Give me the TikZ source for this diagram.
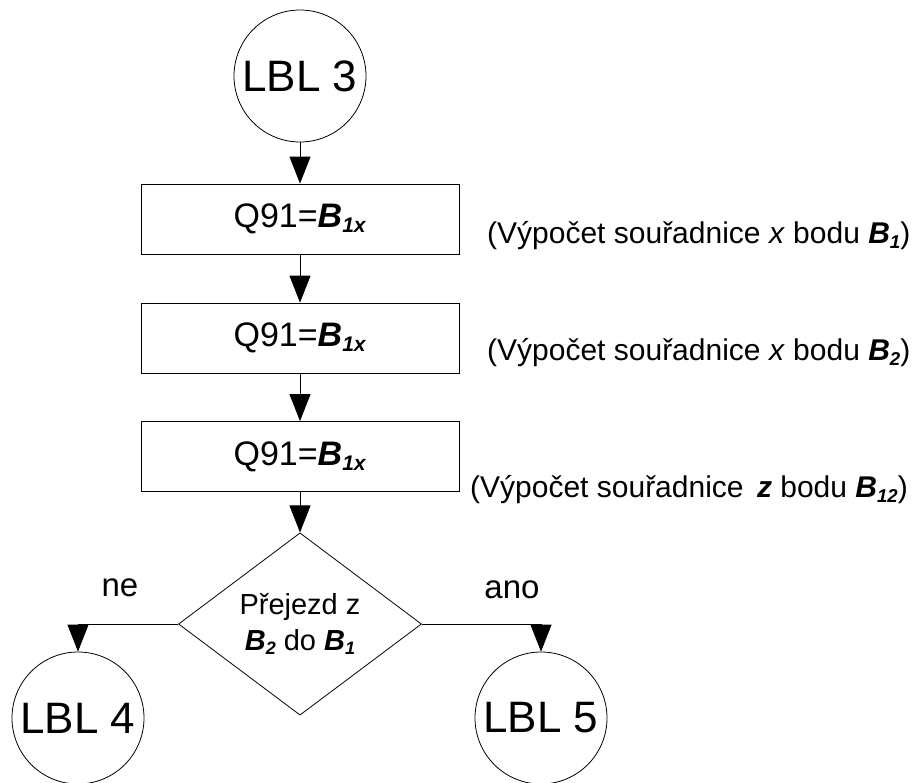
\documentclass[tikz,border=0pt]{standalone}
\usepackage{fontspec}
\setmainfont{Liberation Sans}
\usetikzlibrary{shapes.geometric,arrows.meta}

% bold italic symbol with a small lowered index
\newcommand{\bsym}[2]{\textbf{\textit{#1}}\raisebox{-0.28ex}{\scalebox{0.62}{\textbf{\textit{#2}}}}}

\begin{document}
\begin{tikzpicture}[x=1pt,y=-1pt,
  every node/.style={inner sep=0pt},
  lbl/.style={draw,circle,minimum size=132pt,line width=0.8pt,
              font=\fontsize{44}{48}\selectfont},
  procbox/.style={draw,rectangle,minimum width=318pt,minimum height=70pt,
              line width=0.8pt,font=\fontsize{34}{38}\selectfont},
  decide/.style={draw,diamond,minimum width=243pt,minimum height=180pt,
              line width=0.8pt,align=center,font=\fontsize{29}{36}\selectfont},
  note/.style={anchor=west,font=\fontsize{30}{34}\selectfont},
  branch/.style={font=\fontsize{33}{38}\selectfont},
  flow/.style={line width=0.8pt,-{Triangle[width=21pt,length=27pt]}}]

\useasboundingbox (0,0) rectangle (912,782);

% start connector and the three assignment steps
\node[lbl] (c3) at (300,76) {LBL 3};
\node[procbox] (b1) at (300,219) {Q91=\bsym{B}{1x}};
\node[procbox] (b2) at (300,338) {Q91=\bsym{B}{1x}};
\node[procbox] (b3) at (300,456.5) {Q91=\bsym{B}{1x}};

% decision and its two targets
\node[decide] (d) at (300,624) {Přejezd z\\\bsym{B}{2} do \bsym{B}{1}};
\node[lbl] (c4) at (78,718) {LBL 4};
\node[lbl] (c5) at (541,718) {LBL 5};

% comments beside the steps
\node[note] (n1) at (487,236) {(Výpočet souřadnice \textit{x} bodu \bsym{B}{1})};
\node[note] (n2) at (487,353) {(Výpočet souřadnice \textit{x} bodu \bsym{B}{2})};
\node[note] (n3) at (470,490) {(Výpočet souřadnice\hspace{5pt} \textbf{\textit{z}} bodu \bsym{B}{12})};

% branch labels
\node[branch] (ne) at (120,588) {ne};
\node[branch] (ano) at (512,590) {ano};

% connectors
\draw[flow] (c3) -- (b1);
\draw[flow] (b1) -- (b2);
\draw[flow] (b2) -- (b3);
\draw[flow] (b3) -- (d.north);
\draw[flow] (d.west) -| (c4.north);
\draw[flow] (d.east) -| (c5.north);
\end{tikzpicture}
\end{document}
